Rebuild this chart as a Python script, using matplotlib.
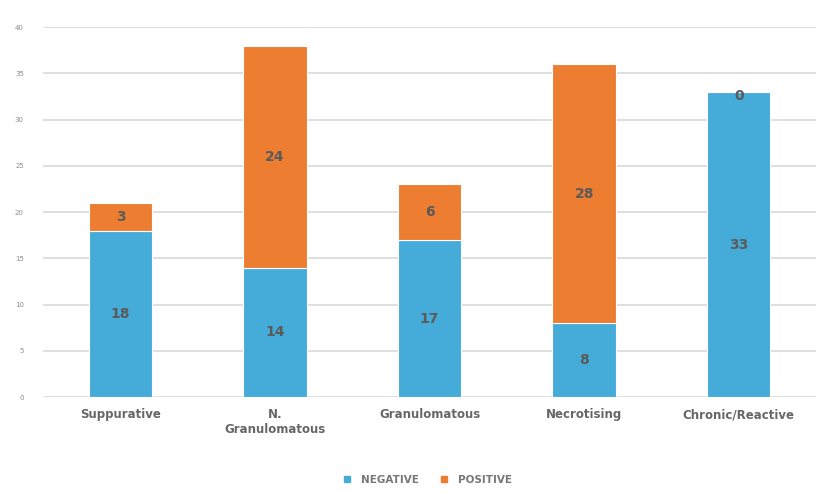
import numpy as np
import matplotlib.pyplot as plt
from matplotlib.lines import Line2D

categories = ['Suppurative', 'N.\nGranulomatous', 'Granulomatous', 'Necrotising', 'Chronic/Reactive']
negative = [18, 14, 17, 8, 33]
positive = [3, 24, 6, 28, 0]
y_ticks = [0, 5, 10, 15, 20, 25, 30, 35, 40]

blue = '#45abd9'
orange = '#ed7d31'
label_col = '#5a5a5a'

fig = plt.figure(figsize=(8.16, 4.94), dpi=100)
ax = fig.add_axes([0.053, 0.196, 0.947, 0.749])

x = np.arange(len(categories))
width = 0.41
b1 = ax.bar(x, negative, width, color=blue, edgecolor='white', linewidth=0.8, zorder=2)
b2 = ax.bar(x, positive, width, bottom=negative, color=orange, edgecolor='white', linewidth=0.8, zorder=2)

for bars in (b1, b2):
    for bar in bars:
        h = bar.get_height()
        cx = bar.get_x() + bar.get_width() / 2
        cy = bar.get_y() + h / 2
        if h == 0:
            cy = bar.get_y() - 0.4
        ax.text(cx, cy, str(int(round(h))), ha='center', va='center',
                fontsize=10, fontweight='bold', color=label_col, zorder=3)

ax.set_xlim(-0.5, len(categories) - 0.5)
ax.set_ylim(0, 40)
ax.set_yticks(y_ticks)
ax.set_yticklabels([str(t) for t in y_ticks], fontsize=5, color='#8c8c8c')
ax.set_xticks(x)
ax.set_xticklabels(categories, fontsize=8.5, fontweight='bold', color='#666666')
ax.tick_params(axis='both', length=0)
ax.tick_params(axis='y', pad=14)
ax.tick_params(axis='x', pad=8)
ax.grid(axis='y', color='#d9d9d9', linewidth=1.2, zorder=0)
for s in ax.spines.values():
    s.set_visible(False)

handles = [Line2D([], [], marker='s', linestyle='', color=blue, markersize=5),
           Line2D([], [], marker='s', linestyle='', color=orange, markersize=5)]
leg = fig.legend(handles, ['NEGATIVE', 'POSITIVE'], loc='lower center',
                 bbox_to_anchor=(0.52, 0.0), ncol=2, frameon=False,
                 fontsize=7.5, handletextpad=0.3, columnspacing=1.5)
for t in leg.get_texts():
    t.set_color('#777777')
    t.set_fontweight('bold')

fig.savefig('out.png', dpi=100)
